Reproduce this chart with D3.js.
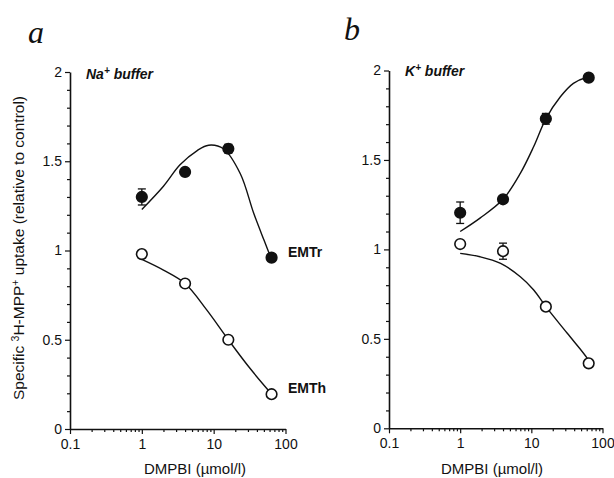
<!DOCTYPE html>
<html>
<head>
<meta charset="utf-8">
<script src="https://cdn.jsdelivr.net/npm/d3@7"></script>
<style>
  html, body { margin: 0; padding: 0; background: #fff; }
  svg { display: block; }
  svg text { font-family: "Liberation Sans", Arial, sans-serif; fill: #111; }
  svg text.serif { font-family: "Liberation Serif", "Times New Roman", serif; }
</style>
</head>
<body>
<svg id="chart" width="614" height="478"></svg>
<script>
// ---- data ----
const concentrations = [1, 4, 16, 64];            // DMPBI, µmol/l
const xTickValues = [0.1, 1, 10, 100];
const yTickValues = [0, 0.5, 1, 1.5, 2];

// Panel a: Na+ buffer
const naEMTr    = [1.30, 1.44, 1.57, 0.96];
const naEMTrErr = [0.045, 0.02, 0.025, 0];
const naEMTh    = [0.98, 0.815, 0.50, 0.195];
const naEMThErr = [0.02, 0.015, 0, 0];
// fitted curves
const naFitEMTrX = [1, 2, 3.4, 5.9, 8.5, 13.7, 23.5, 36, 50, 62, 64];
const naFitEMTrY = [1.23, 1.36, 1.48, 1.56, 1.59, 1.57, 1.43, 1.21, 1.06, 0.965, 0.955];
const naFitEMThX = [1, 2, 4, 8, 16, 32, 64];
const naFitEMThY = [0.95, 0.89, 0.815, 0.667, 0.50, 0.34, 0.196];

// Panel b: K+ buffer
const kEMTr    = [1.205, 1.28, 1.73, 1.96];
const kEMTrErr = [0.06, 0.02, 0.03, 0];
const kEMTh    = [1.03, 0.99, 0.68, 0.363];
const kEMThErr = [0.015, 0.045, 0, 0];
const kFitEMTrX = [1, 1.9, 4, 7, 10.8, 16, 25.6, 39, 61, 64];
const kFitEMTrY = [1.10, 1.175, 1.28, 1.425, 1.575, 1.73, 1.853, 1.928, 1.962, 1.963];
const kFitEMThX = [1, 1.9, 3.7, 7, 10.8, 16, 32, 61, 64];
const kFitEMThY = [0.978, 0.959, 0.922, 0.847, 0.773, 0.68, 0.531, 0.391, 0.37];

// ---- drawing ----
const svg = d3.select("#chart");

function panel(cfg) {
  const x = d3.scaleLog().domain([0.1, 100]).range([cfg.x0, cfg.x1]);
  const y = d3.scaleLinear().domain([0, 2]).range([cfg.y0, cfg.y1]);
  const g = svg.append("g");

  const minorX = [];
  [0.1, 1, 10].forEach(d => { for (let k = 2; k <= 9; k++) minorX.push(d * k); });
  const minorY = d3.range(0, 21).map(i => i / 10).filter(v => !yTickValues.some(t => Math.abs(t - v) < 1e-9));

  const gxMinor = g.append("g").attr("transform", `translate(0,${cfg.y0})`)
    .call(d3.axisBottom(x).tickValues(minorX).tickSize(3).tickSizeOuter(0).tickFormat(""));
  gxMinor.select(".domain").remove();
  g.append("g").attr("transform", `translate(0,${cfg.y0})`)
    .call(d3.axisBottom(x).tickValues(xTickValues).tickSize(5).tickSizeOuter(0)
      .tickFormat(d => d3.format("~g")(d)).tickPadding(5));

  const gyMinor = g.append("g").attr("transform", `translate(${cfg.x0},0)`)
    .call(d3.axisLeft(y).tickValues(minorY).tickSize(3).tickSizeOuter(0).tickFormat(""));
  gyMinor.select(".domain").remove();
  g.append("g").attr("transform", `translate(${cfg.x0},0)`)
    .call(d3.axisLeft(y).tickValues(yTickValues).tickSize(5).tickSizeOuter(0)
      .tickFormat(d => d3.format("~g")(d)).tickPadding(3));

  g.selectAll(".domain").attr("stroke", "#111").attr("stroke-width", 1.6);
  g.selectAll(".tick line").attr("stroke", "#111").attr("stroke-width", 1.2);
  g.selectAll(".tick text").style("font-size", "14px").style("fill", "#111");

  const line = d3.line().x(d => x(d[0])).y(d => y(d[1])).curve(d3.curveCatmullRom.alpha(0.5));
  cfg.fits.forEach(f => {
    g.append("path").datum(d3.zip(f.x, f.y)).attr("d", line)
      .attr("fill", "none").attr("stroke", "#111").attr("stroke-width", 1.4);
  });

  cfg.series.forEach(s => {
    const pts = concentrations.map((c, i) => ({ c, v: s.v[i], e: s.e[i] }));
    const eb = g.append("g").attr("stroke", "#111").attr("stroke-width", 1.3);
    pts.filter(p => p.e > 0).forEach(p => {
      const cx = x(p.c);
      eb.append("line").attr("x1", cx).attr("x2", cx).attr("y1", y(p.v - p.e)).attr("y2", y(p.v + p.e));
      [p.v - p.e, p.v + p.e].forEach(v => {
        eb.append("line").attr("x1", cx - 4).attr("x2", cx + 4).attr("y1", y(v)).attr("y2", y(v));
      });
    });
    g.append("g").selectAll("circle").data(pts).join("circle")
      .attr("cx", p => x(p.c)).attr("cy", p => y(p.v)).attr("r", 5.3)
      .attr("fill", s.filled ? "#111" : "#fff").attr("stroke", "#111").attr("stroke-width", 1.6);
  });

  const bl = g.append("text").attr("x", cfg.bufX).attr("y", cfg.bufY)
    .style("font-size", "14px").style("font-weight", "bold").style("font-style", "italic");
  bl.append("tspan").text(cfg.ion);
  bl.append("tspan").attr("dy", -5).style("font-size", "10px").text("+");
  bl.append("tspan").attr("dy", 5).text(" buffer");

  g.append("text").attr("class", "serif").attr("x", cfg.letterX).attr("y", cfg.letterY)
    .style("font-style", "italic").style("font-size", "32px").text(cfg.letter);

  g.append("text").attr("x", cfg.titleX).attr("y", 474).attr("text-anchor", "middle")
    .style("font-size", "15px").text("DMPBI (µmol/l)");
  return { x, y, g };
}

panel({
  x0: 70, x1: 285.5, y0: 429, y1: 72,
  fits: [{ x: naFitEMTrX, y: naFitEMTrY }, { x: naFitEMThX, y: naFitEMThY }],
  series: [
    { v: naEMTr, e: naEMTrErr, filled: true },
    { v: naEMTh, e: naEMThErr, filled: false }
  ],
  ion: "Na", bufX: 86, bufY: 79,
  letter: "a", letterX: 28, letterY: 43,
  titleX: 195
});

panel({
  x0: 389, x1: 602.5, y0: 428.3, y1: 70.5,
  fits: [{ x: kFitEMTrX, y: kFitEMTrY }, { x: kFitEMThX, y: kFitEMThY }],
  series: [
    { v: kEMTr, e: kEMTrErr, filled: true },
    { v: kEMTh, e: kEMThErr, filled: false }
  ],
  ion: "K", bufX: 405, bufY: 76,
  letter: "b", letterX: 344, letterY: 40,
  titleX: 492
});

svg.append("text").attr("x", 288).attr("y", 257).style("font-size", "14px").style("font-weight", "bold").text("EMTr");
svg.append("text").attr("x", 288).attr("y", 393).style("font-size", "14px").style("font-weight", "bold").text("EMTh");

const yt = svg.append("text")
  .attr("transform", "translate(24,248) rotate(-90)")
  .attr("text-anchor", "middle").style("font-size", "15.5px");
yt.append("tspan").text("Specific ");
yt.append("tspan").attr("dy", -5).style("font-size", "10.5px").text("3");
yt.append("tspan").attr("dy", 5).text("H-MPP");
yt.append("tspan").attr("dy", -5).style("font-size", "10.5px").text("+");
yt.append("tspan").attr("dy", 5).text(" uptake (relative to control)");
</script>
</body>
</html>
